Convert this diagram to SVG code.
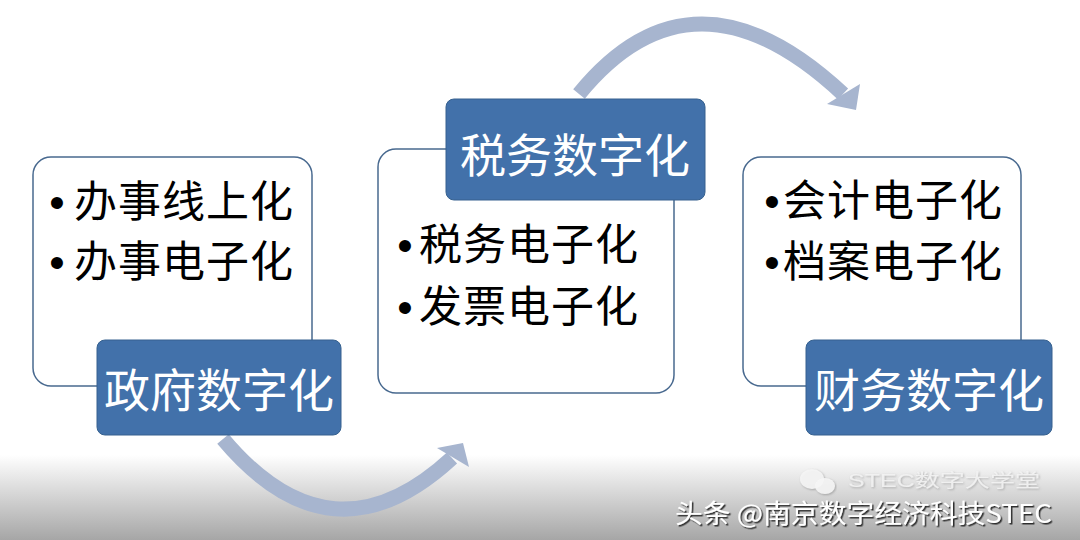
<svg xmlns="http://www.w3.org/2000/svg" width="1080" height="540" viewBox="0 0 1080 540">
  <defs>
    <linearGradient id="bg" x1="0" y1="0" x2="0" y2="1">
      <stop offset="0" stop-color="#ffffff"/>
      <stop offset="1" stop-color="#a6a6a6"/>
    </linearGradient>
    <filter id="shadow" x="-5%" y="-20%" width="110%" height="160%">
      <feDropShadow dx="1.5" dy="1.5" stdDeviation="0.6" flood-color="#1a1a1a" flood-opacity="0.9"/>
    </filter>
    <filter id="soft" x="-5%" y="-20%" width="110%" height="160%">
      <feDropShadow dx="1" dy="1" stdDeviation="0.8" flood-color="#777777" flood-opacity="0.6"/>
    </filter>
    <style>
      .box { fill: #ffffff; stroke: #48698f; stroke-width: 1.5; }
      .label { fill: #4271aa; stroke: #36618f; stroke-width: 1; }
      .ltext { font-family: "Noto Sans CJK SC", "Noto Sans", sans-serif; font-size: 46px; fill: #ffffff; text-anchor: middle; }
      .item { font-family: "Noto Sans CJK SC", "Noto Sans", sans-serif; font-size: 43px; letter-spacing: 1px; fill: #000000; }
      .bullet { font-family: "Liberation Sans", Arial, sans-serif; font-size: 44px; fill: #000000; text-anchor: middle; }
      .arc { fill: none; stroke: #a7b5cf; stroke-width: 15; }
      .head { fill: #a7b5cf; }
      .wm1 { font-family: "Noto Sans CJK SC", "Liberation Sans", sans-serif; font-size: 26px; fill: #ffffff; }
      .wm2 { font-family: "Liberation Sans", "Noto Sans CJK SC", sans-serif; font-size: 18px; fill: #f4f4f4; fill-opacity: 0.85; }
    </style>
  </defs>

  <rect x="0" y="0" width="1080" height="540" fill="#ffffff"/>
  <rect x="0" y="455" width="1080" height="85" fill="url(#bg)"/>

  <g id="connectors">
    <path class="arc" d="M223,439 Q332,569 452,458"/>
    <polygon class="head" points="437,448 469,467 463,443"/>
    <path class="arc" d="M579,94 Q693,-46 843,94"/>
    <polygon class="head" points="827,104 860,84 856,110"/>
  </g>

  <g id="node-gov">
    <rect class="box" x="33" y="157" width="279" height="229" rx="18"/>
    <text class="bullet" x="57" y="218">•</text>
    <text class="item" x="74" y="217">办事线上化</text>
    <text class="bullet" x="57" y="278">•</text>
    <text class="item" x="74" y="277">办事电子化</text>
    <rect class="label" x="97" y="340" width="244" height="95" rx="8"/>
    <text class="ltext" x="219" y="407">政府数字化</text>
  </g>

  <g id="node-tax">
    <rect class="box" x="378" y="149" width="296" height="244" rx="18"/>
    <text class="bullet" x="405" y="261">•</text>
    <text class="item" x="419" y="260">税务电子化</text>
    <text class="bullet" x="405" y="323">•</text>
    <text class="item" x="419" y="322">发票电子化</text>
    <rect class="label" x="446" y="99" width="259" height="101" rx="8"/>
    <text class="ltext" x="575" y="172">税务数字化</text>
  </g>

  <g id="node-fin">
    <rect class="box" x="743" y="157" width="278" height="229" rx="18"/>
    <text class="bullet" x="772" y="217">•</text>
    <text class="item" x="783" y="216">会计电子化</text>
    <text class="bullet" x="772" y="278">•</text>
    <text class="item" x="783" y="277">档案电子化</text>
    <rect class="label" x="806" y="340" width="246" height="95" rx="8"/>
    <text class="ltext" x="929" y="407">财务数字化</text>
  </g>

  <g id="watermark">
    <g filter="url(#soft)" fill="#f6f6f6" fill-opacity="0.9">
      <ellipse cx="812" cy="479" rx="12" ry="10"/>
      <ellipse cx="825" cy="486" rx="10" ry="8"/>
    </g>
    <text class="wm2" x="848" y="487" textLength="192" lengthAdjust="spacingAndGlyphs" filter="url(#soft)">STEC数字大学堂</text>
    <text class="wm1" x="675" y="523" textLength="377" lengthAdjust="spacingAndGlyphs" filter="url(#shadow)">头条 @南京数字经济科技STEC</text>
  </g>
</svg>
